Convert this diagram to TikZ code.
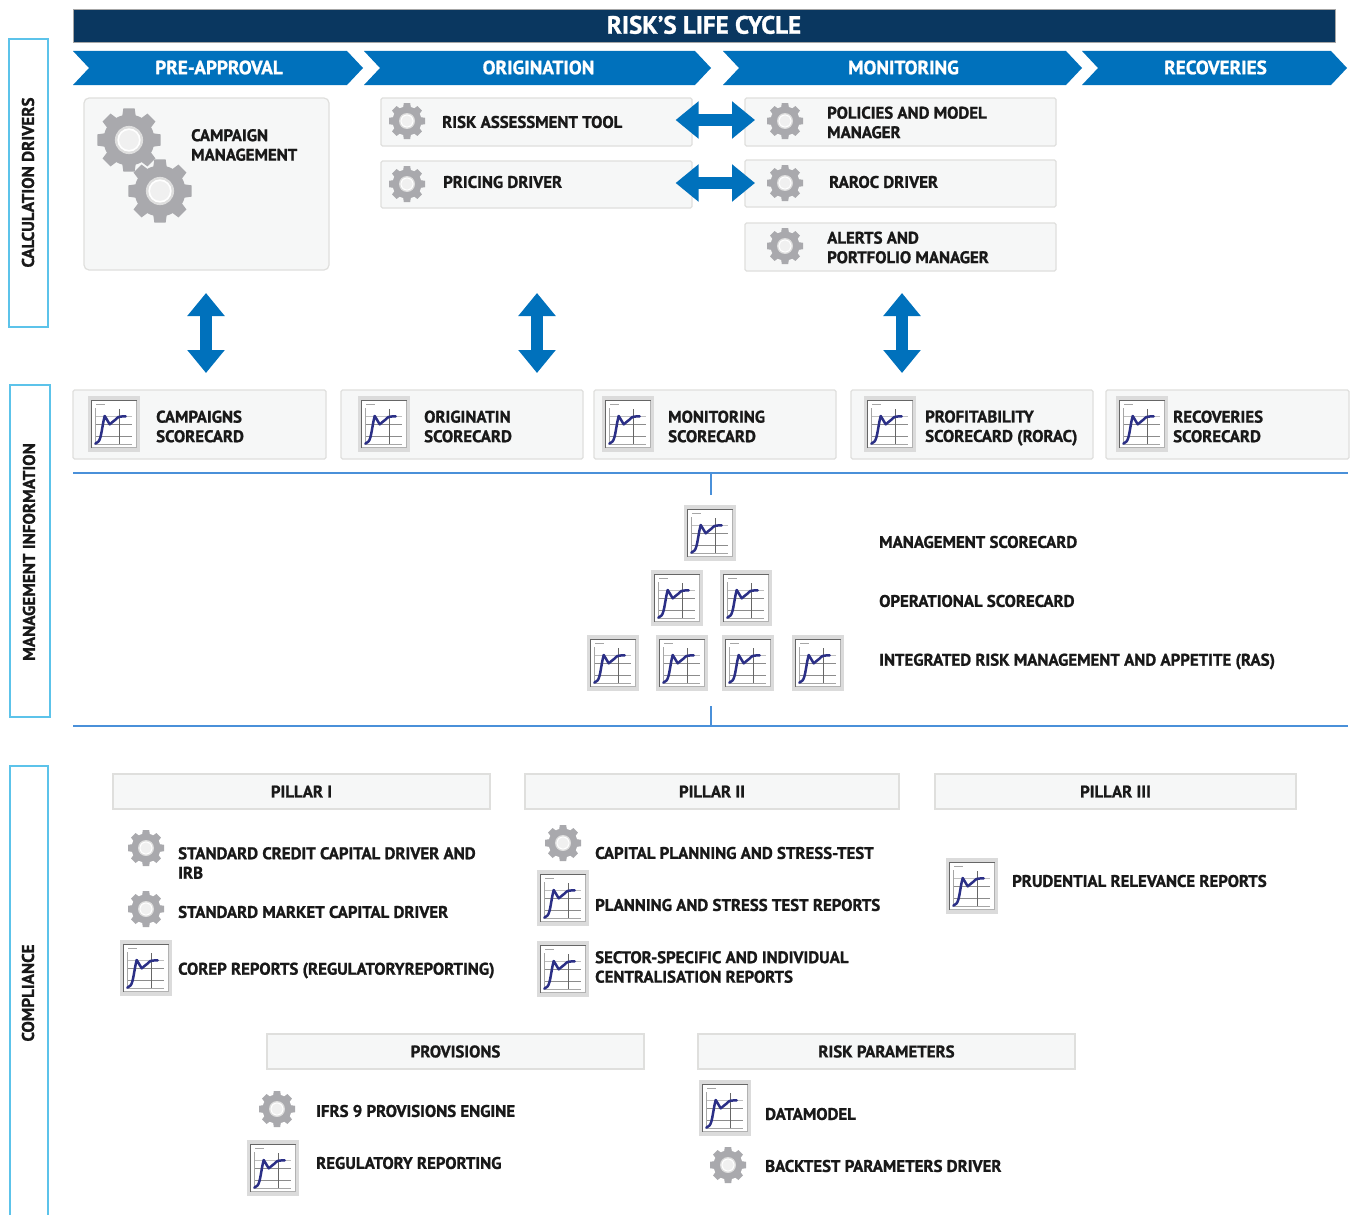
\documentclass[tikz,border=0pt]{standalone}
\usepackage{fontspec}
\setmainfont[BoldFeatures={FakeBold=1.2}]{PT Sans}
\usetikzlibrary{arrows.meta}
\definecolor{bandnavy}{HTML}{0A3760}
\definecolor{ribbonblue}{HTML}{0071BC}
\definecolor{framecyan}{HTML}{5CC3EA}
\definecolor{rulerblue}{HTML}{4A90D9}
\definecolor{panelfill}{HTML}{F6F7F7}
\definecolor{panelline}{HTML}{DFDFDD}
\definecolor{geargrey}{HTML}{A9A9AD}
\definecolor{curveblue}{HTML}{2B2F86}
\tikzset{
  panel/.style={draw=panelline,fill=panelfill,line width=1.2pt,rounded corners=1.5pt,inner sep=0pt,font=\fontsize{16.8}{19.5}\selectfont\bfseries,text=black!90},
  itemtext/.style={anchor=west,align=left,inner sep=0pt,text=black!90,font=\fontsize{16.8}{19.5}\selectfont\bfseries},
  ribbontext/.style={text=white,inner sep=0pt,font=\fontsize{19.2}{22}\selectfont\bfseries},
  sidetext/.style={rotate=90,inner sep=0pt,text=black!90,font=\fontsize{17}{19.5}\selectfont\bfseries},
  sideframe/.style={draw=framecyan,line width=1.4pt},
  bigarrow/.style={draw=ribbonblue,line width=12pt,{Triangle[width=36pt,length=23pt]}-{Triangle[width=36pt,length=23pt]}},
  rulerline/.style={draw=rulerblue,line width=1.2pt},
  gearicon/.pic={
    \fill[geargrey] (0,0) circle (14.5);
    \foreach \a in {0,45,...,315}
      \fill[geargrey,rotate=\a] (-4,12.5) -- (-3.2,18) -- (3.2,18) -- (4,12.5) -- cycle;
    \fill[black!13] (0,0) circle (8);
    \fill[white] (0,0) circle (6.6);
    \fill[black!6] (0,0) circle (5.6);
  },
  charticon/.pic={
    \fill[black!14] (-26,-28) rectangle (26,28);
    \fill[white] (-22.5,-23.5) rectangle (22.5,23.5);
    \draw[black!60,line width=1.1pt] (-22.5,23.5) -- (-22.5,-23.5) -- (22.5,-23.5);
    \draw[black!30,line width=.7pt] (22.5,-23.5) -- (22.5,23.5) -- (-22.5,23.5);
    \draw[black!25,line width=.7pt] (-19,-8) -- (18,-8);
    \draw[black!45,line width=.8pt] (-19,0) -- (18,0) (-19,12) -- (18,12);
    \draw[black!35,line width=.8pt] (-19,20) -- (18,20) (-18.7,-16) -- (-18.7,20);
    \draw[black!60,line width=.9pt] (5.7,-15) -- (5.7,20);
    \draw[black!35,line width=.8pt] (-18,-19.5) -- (-9,-19.5);
    \draw[curveblue,line width=2.5pt,line cap=round,line join=round] (-18.7,19.7) -- (-15.5,17.5) .. controls (-12.5,14) and (-12,2) .. (-9.3,-8) -- (-4.3,0.3) -- (1,-4) .. controls (3,-7) and (4,-7.5) .. (11.7,-7.7);
  },
}
\newcommand{\chevron}[4]{% name, left, right, text
  \fill[ribbonblue] (#2,51) -- (#3-16,51) -- (#3,68) -- (#3-16,85) -- (#2,85) -- (#2+16,68) -- cycle;
  \node[ribbontext] (#1) at ({(#2+#3)/2+1},67.5) {#4};
}
\begin{document}
\begin{tikzpicture}[x=1pt,y=-1pt]
  \useasboundingbox (0,0) rectangle (1356,1215);
  \fill[white] (0,0) rectangle (1356,1215);
  % life cycle
  \node[draw=black!35,fill=bandnavy,line width=.8pt,minimum width=1262pt,minimum height=33pt,inner sep=0pt,text=white,font=\fontsize{25}{27}\selectfont\bfseries] (lifecycle) at (704,25.5) {\raisebox{1.5pt}{RISK'S LIFE CYCLE}};
  \chevron{preapproval}{73}{363}{PRE-APPROVAL}
  \chevron{origination}{364}{711}{ORIGINATION}
  \chevron{monitoring}{723}{1082}{MONITORING}
  \chevron{recoveries}{1082}{1347}{RECOVERIES}
  % side frames
  \node[sideframe,minimum width=39pt,minimum height=288pt,inner sep=0pt] (calcframe) at (28.5,183) {};
  \node[sidetext] (calctext) at (28,182.5) {CALCULATION DRIVERS};
  \node[sideframe,minimum width=40pt,minimum height=332pt,inner sep=0pt] (mgmtframe) at (30,551) {};
  \node[sidetext] (mgmttext) at (29,552) {MANAGEMENT INFORMATION};
  \draw[sideframe] (10,1215) -- (10,766) -- (48,766) -- (48,1215);
  \node[sidetext] (compltext) at (28,993) {COMPLIANCE};
  % calculation drivers
  \node[panel,rounded corners=5pt,minimum width=245pt,minimum height=172pt] (campaignbox) at (206.5,184) {};
  \pic[scale=1.76] at (129,140) {gearicon};
  \pic[scale=1.76] at (160,191) {gearicon};
  \node[itemtext] (campaigntext) at (191,145) {CAMPAIGN\\MANAGEMENT};
  \node[panel,minimum width=311pt,minimum height=48pt] (assessbox) at (536.5,122) {};
  \node[panel,minimum width=311pt,minimum height=47pt] (pricingbox) at (536.5,184.5) {};
  \node[panel,minimum width=311pt,minimum height=48pt] (policiesbox) at (900.5,122) {};
  \node[panel,minimum width=311pt,minimum height=47pt] (rarocbox) at (900.5,183.5) {};
  \node[panel,minimum width=311pt,minimum height=48pt] (alertsbox) at (900.5,247) {};
  \pic at (407,121) {gearicon};
  \pic at (407,184) {gearicon};
  \pic at (785,121) {gearicon};
  \pic at (785,183) {gearicon};
  \pic at (785,246) {gearicon};
  \node[itemtext] (assesstext) at (442,122) {RISK ASSESSMENT TOOL};
  \node[itemtext] (pricingtext) at (443,182) {PRICING DRIVER};
  \node[itemtext] (policiestext) at (827,122.5) {POLICIES AND MODEL\\MANAGER};
  \node[itemtext] (rarocetext) at (829,182) {RAROC DRIVER};
  \node[itemtext] (alertstext) at (827,247.5) {ALERTS AND\\PORTFOLIO MANAGER};
  \draw[bigarrow] (assessbox.east |- 0,120) ++(-17,0) coordinate (arrowa) -- (755,120) coordinate (arrowb);
  \draw[bigarrow] (pricingbox.east |- 0,183) ++(-17,0) coordinate (arrowc) -- (755,183) coordinate (arrowd);
  % scorecards
  \node[panel,minimum width=253pt,minimum height=69pt] (campaignscore) at (199.5,424.5) {};
  \node[panel,minimum width=242pt,minimum height=69pt] (originscore) at (462,424.5) {};
  \node[panel,minimum width=242pt,minimum height=69pt] (monitorscore) at (715,424.5) {};
  \node[panel,minimum width=242pt,minimum height=69pt] (profitscore) at (972,424.5) {};
  \node[panel,minimum width=243pt,minimum height=69pt] (recoverscore) at (1227.5,424.5) {};
  \pic at (114,424) {charticon};
  \pic at (384,424) {charticon};
  \pic at (628,424) {charticon};
  \pic at (890,424) {charticon};
  \pic at (1142,424) {charticon};
  \node[itemtext] (campaignslabel) at (156,426.5) {CAMPAIGNS\\SCORECARD};
  \node[itemtext] (originlabel) at (424,426.5) {ORIGINATIN\\SCORECARD};
  \node[itemtext] (monitorlabel) at (668,426.5) {MONITORING\\SCORECARD};
  \node[itemtext] (profitlabel) at (925,428) {PROFITABILITY\\SCORECARD (RORAC)};
  \node[itemtext] (recoverlabel) at (1173,426.5) {RECOVERIES\\SCORECARD};
  \coordinate (upa) at (206,293);
  \coordinate (upb) at (537,293);
  \coordinate (upc) at (902,293);
  \draw[bigarrow] (upa) -- (206,373);
  \draw[bigarrow] (upb) -- (537,373);
  \draw[bigarrow] (upc) -- (902,373);
  % pyramid
  \draw[rulerline] (73,473) -- (1348,473) (711,473) -- (711,495);
  \draw[rulerline] (73,726) -- (1348,726) (711,726) -- (711,706);
  \pic at (710,533) {charticon};
  \pic at (677,598) {charticon};
  \pic at (746,598) {charticon};
  \pic at (613,663) {charticon};
  \pic at (682,663) {charticon};
  \pic at (748,663) {charticon};
  \pic at (818,663) {charticon};
  \node[itemtext] (mgmtlabel) at (879,542) {MANAGEMENT SCORECARD};
  \node[itemtext] (oplabel) at (879,601) {OPERATIONAL SCORECARD};
  \node[itemtext] (raslabel) at (879,661.5) {INTEGRATED RISK MANAGEMENT AND APPETITE (RAS)};
  % compliance
  \node[panel,rounded corners=0pt,minimum width=377pt,minimum height=35pt] (pillara) at (301.5,791.5) {PILLAR I};
  \node[panel,rounded corners=0pt,minimum width=374pt,minimum height=35pt] (pillarb) at (712,791.5) {PILLAR II};
  \node[panel,rounded corners=0pt,minimum width=361pt,minimum height=35pt] (pillarc) at (1115.5,791.5) {PILLAR III};
  \pic at (146,848) {gearicon};
  \pic at (146,909) {gearicon};
  \pic at (146,968) {charticon};
  \node[itemtext] (creditlabel) at (178,863) {STANDARD CREDIT CAPITAL DRIVER AND\\IRB};
  \node[itemtext] (marketlabel) at (178,912) {STANDARD MARKET CAPITAL DRIVER};
  \node[itemtext] (coreplabel) at (178,970.5) {COREP REPORTS (REGULATORYREPORTING)};
  \pic at (563,843) {gearicon};
  \pic at (563,898) {charticon};
  \pic at (563,969) {charticon};
  \node[itemtext] (capitallabel) at (595,853) {CAPITAL PLANNING AND STRESS-TEST};
  \node[itemtext] (planninglabel) at (595,905) {PLANNING AND STRESS TEST REPORTS};
  \node[itemtext] (sectorlabel) at (595,967) {SECTOR-SPECIFIC AND INDIVIDUAL\\CENTRALISATION REPORTS};
  \pic at (972,886) {charticon};
  \node[itemtext] (prudentlabel) at (1012,881) {PRUDENTIAL RELEVANCE REPORTS};
  \node[panel,rounded corners=0pt,minimum width=377pt,minimum height=35pt] (provisions) at (455.5,1051.5) {PROVISIONS};
  \node[panel,rounded corners=0pt,minimum width=377pt,minimum height=35pt] (riskparams) at (886.5,1051.5) {RISK PARAMETERS};
  \pic at (277,1109) {gearicon};
  \pic at (273,1168) {charticon};
  \node[itemtext] (ifrslabel) at (316,1111) {IFRS 9 PROVISIONS ENGINE};
  \node[itemtext] (reglabel) at (316,1163) {REGULATORY REPORTING};
  \pic at (725,1108) {charticon};
  \pic at (728,1165) {gearicon};
  \node[itemtext] (datalabel) at (765,1114) {DATAMODEL};
  \node[itemtext] (backlabel) at (765,1166) {BACKTEST PARAMETERS DRIVER};
\end{tikzpicture}
\end{document}
